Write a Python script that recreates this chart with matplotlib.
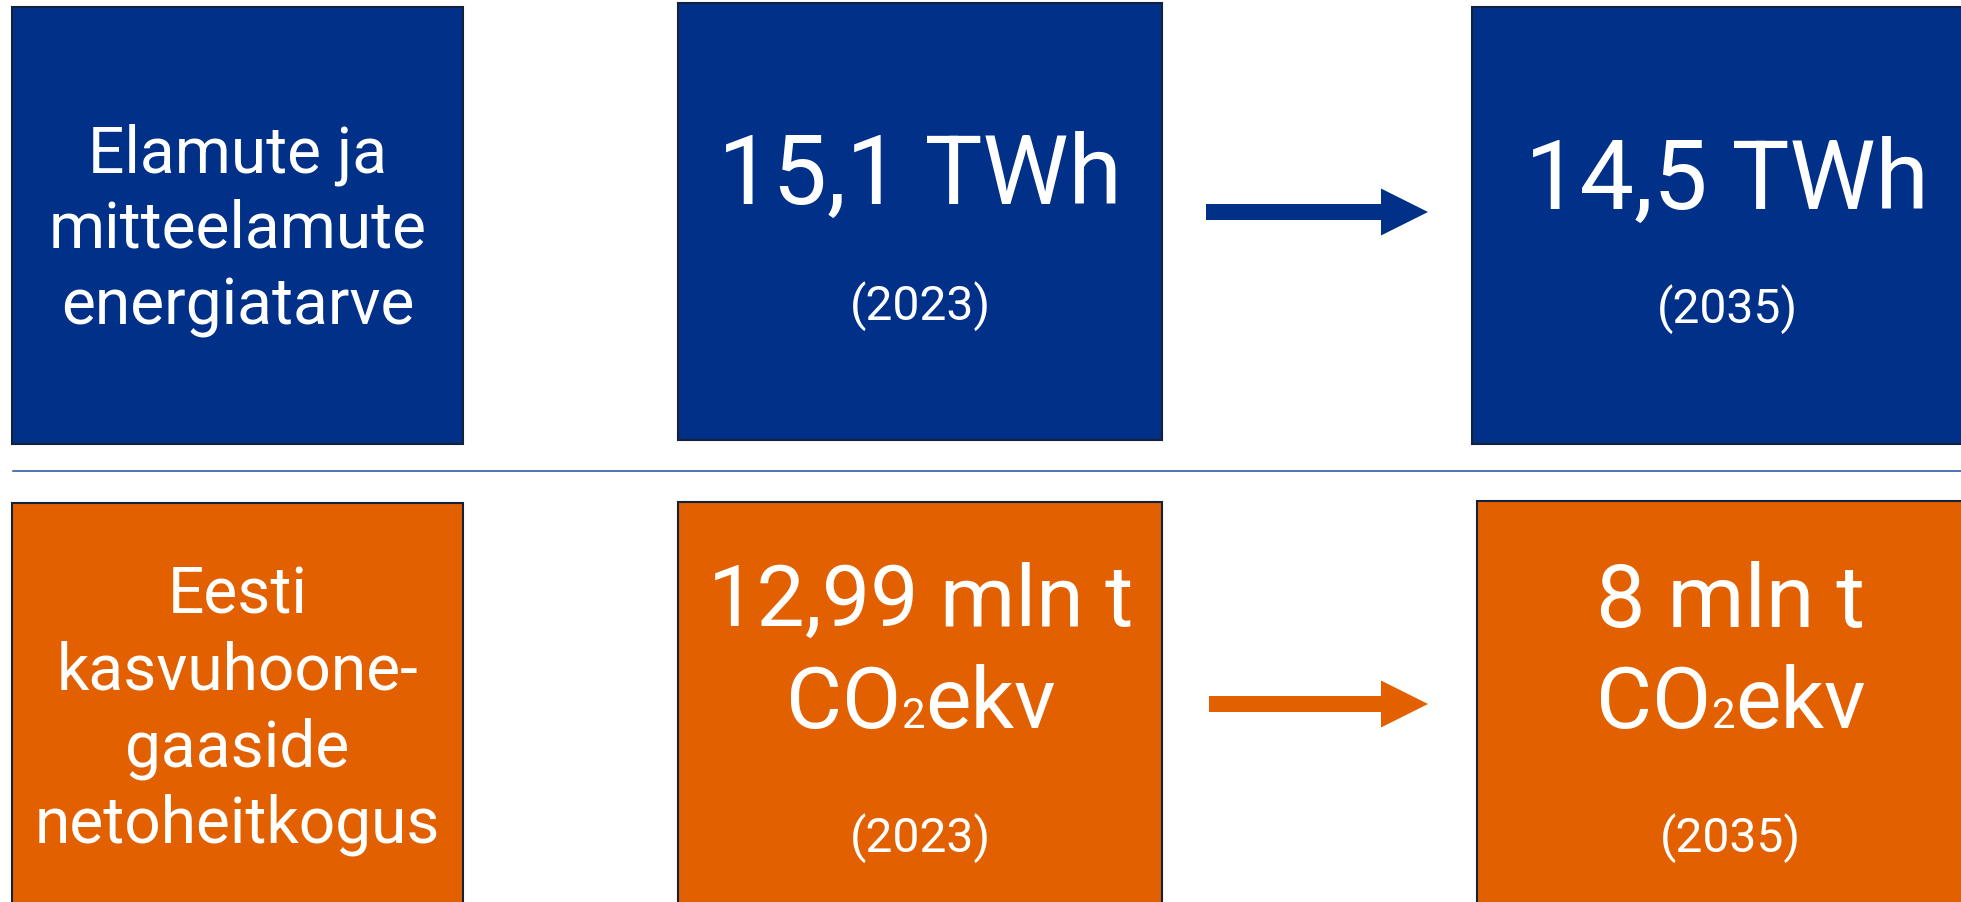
import matplotlib
matplotlib.use("Agg")
import matplotlib.pyplot as plt
from matplotlib.patches import Rectangle, FancyArrow

plt.rcParams['font.family'] = ['Roboto', 'DejaVu Sans']

# data
row_titles = [["Elamute ja", "mitteelamute", "energiatarve"],
              ["Eesti", "kasvuhoone-", "gaaside", "netoheitkogus"]]
start_values = ["15,1 TWh", "12,99 mln t"]
end_values = ["14,5 TWh", "8 mln t"]
unit_parts = [None, ("CO", "2", "ekv")]
years = ["(2023)", "(2035)"]
row_colors = ["#003087", "#e36000"]

EDGE = "#14213d"
W, H = 1961, 902

fig = plt.figure(figsize=(W / 100, H / 100), dpi=100)
ax = fig.add_axes([0, 0, 1, 1])
ax.set_xlim(0, W)
ax.set_ylim(H, 0)
ax.axis("off")
r = fig.canvas.get_renderer()

def px(p):
    # pixel font height -> points
    return p * 0.72

def box(x0, y0, x1, y1, color):
    ax.add_patch(Rectangle((x0, y0), x1 - x0, y1 - y0, facecolor=color,
                           edgecolor=EDGE, lw=1.5))

def co2_line(cx, y, size, subsize):
    parts = [(unit_parts[1][0], size), (unit_parts[1][1], subsize), (unit_parts[1][2], size)]
    texts = [ax.text(0, y, s, fontsize=fs, color="white", va="baseline", ha="left")
             for s, fs in parts]
    widths = [t.get_window_extent(r).width for t in texts]
    x = cx - sum(widths) / 2
    for t, w in zip(texts, widths):
        t.set_x(x)
        x += w

# top row
box(12, 7, 463, 444, row_colors[0])
box(678, 3, 1162, 440, row_colors[0])
box(1472, 7, 1995, 444, row_colors[0])
for line, yb in zip(row_titles[0], [172, 248, 324]):
    ax.text(237.5, yb, line, fontsize=px(64), color="white", ha="center", va="baseline")
ax.text(920, 204, start_values[0], fontsize=px(97), color="white", ha="center", va="baseline")
ax.text(920, 320, years[0], fontsize=px(48), color="white", ha="center", va="baseline")
ax.text(1727, 209, end_values[0], fontsize=px(97), color="white", ha="center", va="baseline")
ax.text(1727, 323, years[1], fontsize=px(48), color="white", ha="center", va="baseline")
ax.add_patch(FancyArrow(1206, 212, 222, 0, width=16, head_width=47, head_length=47,
                        length_includes_head=True, color=row_colors[0], lw=0))

# separator
ax.plot([13, W], [471, 471], color="#1d4e9e", lw=1.1)

# bottom row
box(12, 503, 463, 920, row_colors[1])
box(678, 502, 1162, 920, row_colors[1])
box(1477, 501, 1995, 920, row_colors[1])
for line, yb in zip(row_titles[1], [613, 689, 766, 843]):
    ax.text(237.5, yb, line, fontsize=px(64), color="white", ha="center", va="baseline")
ax.text(921, 626, start_values[1], fontsize=px(86), color="white", ha="center", va="baseline")
co2_line(921, 728, px(86), px(42))
ax.text(920, 852, years[0], fontsize=px(48), color="white", ha="center", va="baseline")
ax.text(1731, 627, end_values[1], fontsize=px(88), color="white", ha="center", va="baseline")
co2_line(1731, 728, px(86), px(42))
ax.text(1730, 852, years[1], fontsize=px(48), color="white", ha="center", va="baseline")
ax.add_patch(FancyArrow(1209, 704, 219, 0, width=16, head_width=47, head_length=47,
                        length_includes_head=True, color=row_colors[1], lw=0))

fig.savefig("out.png", dpi=100, facecolor="white")
